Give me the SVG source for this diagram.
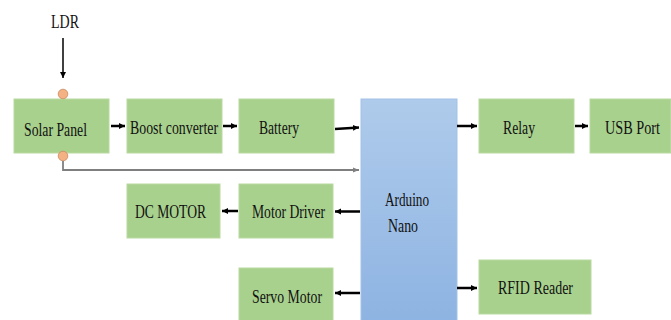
<svg xmlns="http://www.w3.org/2000/svg" width="671" height="320" viewBox="0 0 671 320">
<style>
.box{fill:#a9d18e;stroke:#b7d9a0;stroke-width:1}
text{font-family:'Liberation Serif','Times New Roman',serif;font-size:18px;fill:#111}
text.big{font-size:19px}
.ar{stroke:#000;stroke-width:2.5;fill:none}
.thin{stroke:#000;stroke-width:1.5;fill:none}
.gray{stroke:#7f7f7f;stroke-width:1.8;fill:none}
.dot{fill:#f4b183;stroke:#c98a5e;stroke-width:0.8}
</style>
<defs>
<linearGradient id="blue" x1="0" y1="0" x2="0" y2="1">
<stop offset="0" stop-color="#afcbeb"/>
<stop offset="1" stop-color="#8db3e2"/>
</linearGradient>
<marker id="ah" markerUnits="userSpaceOnUse" markerWidth="8" markerHeight="8" refX="6" refY="4" orient="auto">
<path d="M0,1 L6,4 L0,7 Z" fill="#000"/>
</marker>
<marker id="ahg" markerUnits="userSpaceOnUse" markerWidth="8" markerHeight="8" refX="6" refY="4" orient="auto">
<path d="M0,1.5 L6,4 L0,6.5 Z" fill="#7f7f7f"/>
</marker>
</defs>

<g id="ldr"><text x="51" y="28" textLength="28" lengthAdjust="spacingAndGlyphs">LDR</text></g>

<g id="solar-panel">
<rect class="box" x="14" y="99" width="95" height="54"/>
<text x="24" y="136" textLength="63" lengthAdjust="spacingAndGlyphs">Solar Panel</text>
<circle class="dot" cx="63" cy="94" r="4.8"/>
<circle class="dot" cx="63" cy="156" r="4.8"/>
</g>

<g id="boost-converter">
<rect class="box" x="127" y="99" width="95" height="54"/>
<text x="130" y="134" textLength="88" lengthAdjust="spacingAndGlyphs">Boost converter</text>
</g>

<g id="battery">
<rect class="box" x="239" y="99" width="95" height="54"/>
<text x="259" y="134" textLength="40" lengthAdjust="spacingAndGlyphs">Battery</text>
</g>

<g id="arduino-nano">
<rect x="361" y="99" width="96" height="226" fill="url(#blue)" stroke="#a3c1e6" stroke-width="1"/>
<text class="big" x="385" y="206" textLength="44" lengthAdjust="spacingAndGlyphs">Arduino</text>
<text class="big" x="388" y="232" textLength="30" lengthAdjust="spacingAndGlyphs">Nano</text>
</g>

<g id="relay">
<rect class="box" x="479" y="99" width="95" height="54"/>
<text x="503" y="134" textLength="32" lengthAdjust="spacingAndGlyphs">Relay</text>
</g>

<g id="usb-port">
<rect class="box" x="590" y="99" width="80.5" height="54"/>
<text x="605" y="134" textLength="55" lengthAdjust="spacingAndGlyphs">USB Port</text>
</g>

<g id="dc-motor">
<rect class="box" x="127" y="184" width="93" height="54"/>
<text x="135" y="218" textLength="71" lengthAdjust="spacingAndGlyphs">DC MOTOR</text>
</g>

<g id="motor-driver">
<rect class="box" x="239" y="184" width="94" height="54"/>
<text x="252" y="218" textLength="73" lengthAdjust="spacingAndGlyphs">Motor Driver</text>
</g>

<g id="servo-motor">
<rect class="box" x="239" y="268" width="94" height="57"/>
<text x="252" y="303" textLength="70" lengthAdjust="spacingAndGlyphs">Servo Motor</text>
</g>

<g id="rfid-reader">
<rect class="box" x="479" y="260" width="112" height="54"/>
<text x="498" y="294" textLength="75" lengthAdjust="spacingAndGlyphs">RFID Reader</text>
</g>

<g id="connectors">
<line class="thin" x1="63" y1="38" x2="63" y2="78" marker-end="url(#ah)"/>
<line class="ar" x1="111" y1="126" x2="125" y2="126" marker-end="url(#ah)"/>
<line class="ar" x1="223" y1="126" x2="237" y2="126" marker-end="url(#ah)"/>
<line class="ar" x1="335" y1="129" x2="359" y2="127.5" marker-end="url(#ah)"/>
<line class="ar" x1="457" y1="126" x2="477" y2="126" marker-end="url(#ah)"/>
<line class="ar" x1="575" y1="126" x2="588" y2="126" marker-end="url(#ah)"/>
<path class="gray" d="M63,161 V170 H359" marker-end="url(#ahg)"/>
<line class="ar" x1="360" y1="211.5" x2="335" y2="211.5" marker-end="url(#ah)"/>
<line class="ar" x1="238" y1="211" x2="222" y2="211" marker-end="url(#ah)"/>
<line class="ar" x1="360" y1="293" x2="335" y2="293" marker-end="url(#ah)"/>
<line class="ar" x1="457" y1="288" x2="477" y2="288" marker-end="url(#ah)"/>
</g>
</svg>
